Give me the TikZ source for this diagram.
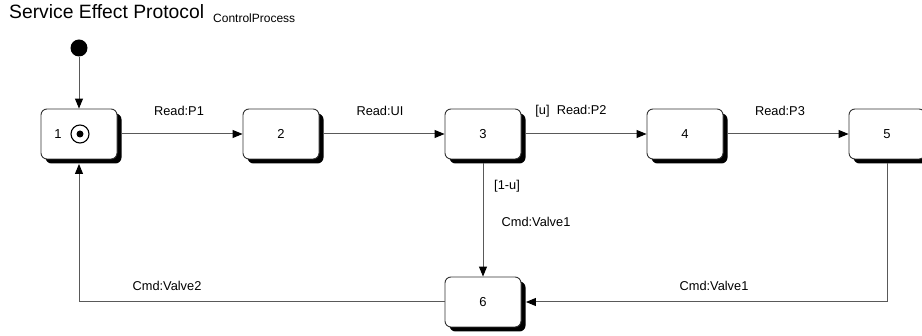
\documentclass[tikz,border=0pt]{standalone}
\usepackage{fontspec}
\setmainfont{Liberation Sans}
\usetikzlibrary{arrows.meta,shadows,calc}
\begin{document}
\begin{tikzpicture}[x=1pt,y=-1pt,
  statebox/.style={draw=black!80, line width=0.9pt, rounded corners=6pt, fill=white,
    minimum width=76pt, minimum height=50pt, inner sep=0pt, font=\fontsize{13}{15}\selectfont,
    drop shadow={shadow xshift=4.5pt, shadow yshift=-4.5pt, fill=black, opacity=1}},
  conn/.style={draw=black!65, line width=1pt, -{Triangle[length=10pt,width=8pt,fill=black,color=black]}},
  lbl/.style={font=\fontsize{12.8}{14}\selectfont, inner sep=0pt, anchor=center}]
\useasboundingbox (0,0) rectangle (922,336);
% title
\node[anchor=base west, inner sep=0pt, font=\fontsize{19.3}{21}\selectfont] (title) at (9,18.5) {Service Effect Protocol};
\node[anchor=base west, inner sep=0pt, font=\fontsize{12}{13}\selectfont] (sub) at (213,23) {ControlProcess};
% initial
\node[circle, fill=black, minimum size=17pt, inner sep=0pt] (init) at (79,48) {};
% states
\node[statebox] (b1) at (79,134) {};
\node[lbl, font=\fontsize{13}{15}\selectfont] (n1) at (58,134) {1};
\node[circle, draw=black, line width=1.1pt, minimum size=18pt, inner sep=0pt] (fin) at (80,134) {};
\node[circle, fill=black, minimum size=7pt, inner sep=0pt] (find) at (fin) {};
\node[statebox] (b2) at (281,134) {2};
\node[statebox] (b3) at (483,134) {3};
\node[statebox] (b4) at (685,134) {4};
\node[statebox] (b5) at (887,134) {5};
\node[statebox] (b6) at (483,302) {6};
% connectors
\draw[conn] (init) -- (b1);
\draw[conn] ([xshift=4pt]b1.east) -- (b2.west);
\draw[conn] ([xshift=4pt]b2.east) -- (b3.west);
\draw[conn] ([xshift=4pt]b3.east) -- (b4.west);
\draw[conn] ([xshift=4pt]b4.east) -- (b5.west);
\draw[conn] ([yshift=-4pt]b3.south) -- (b6.north);
\draw[conn] ([yshift=-4pt]b5.south) |- ([xshift=4.5pt]b6.east);
\draw[conn] (b6.west) -| ([yshift=-4.5pt]b1.south);
% labels
\node[lbl] (l1) at (179,110.5) {Read:P1};
\node[lbl] (l2) at (380,110.5) {Read:UI};
\node[lbl] (l3) at (571,111) {[u]\ \ Read:P2};
\node[lbl] (l4) at (780,110.5) {Read:P3};
\node[lbl] (l5) at (507,186) {[1-u]};
\node[lbl] (l6) at (536,222) {Cmd:Valve1};
\node[lbl] (l7) at (714,286) {Cmd:Valve1};
\node[lbl] (l8) at (167,286) {Cmd:Valve2};
\end{tikzpicture}
\end{document}
